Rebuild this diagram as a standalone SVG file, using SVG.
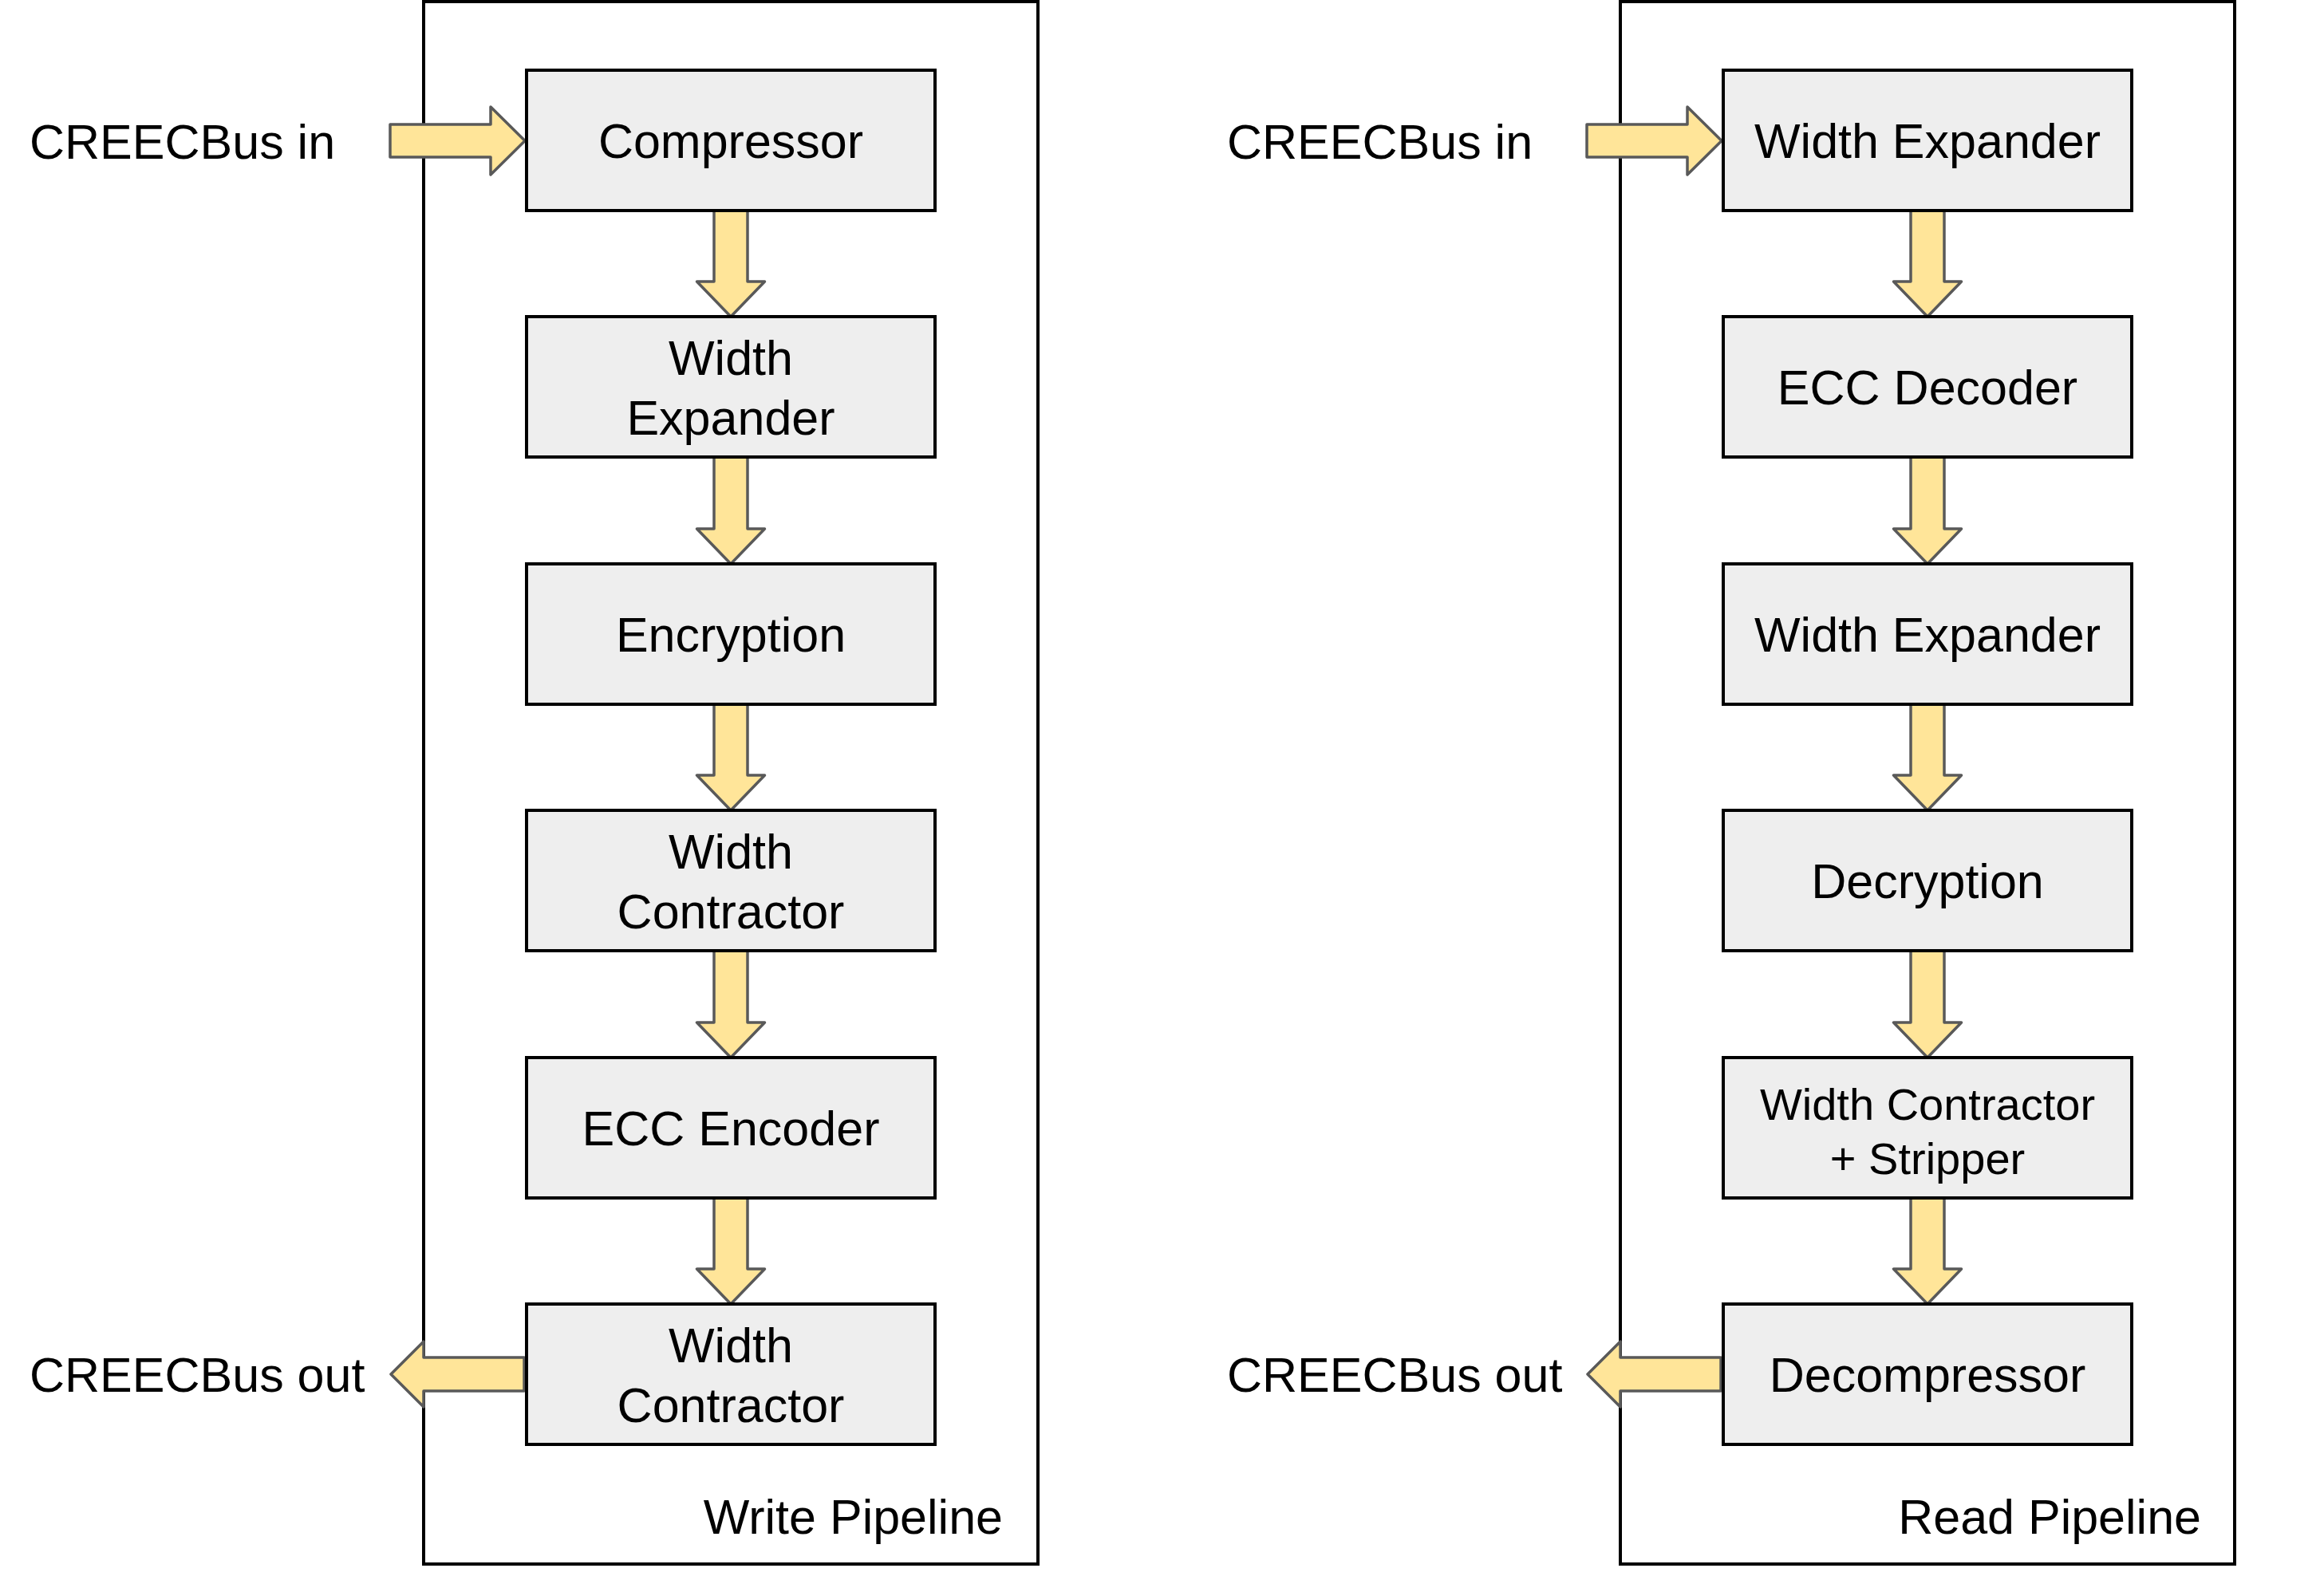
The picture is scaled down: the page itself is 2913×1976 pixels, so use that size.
<svg xmlns="http://www.w3.org/2000/svg" width="2913" height="1976" viewBox="0 0 2913 1976">
<style>
.bg{fill:#ffffff}
.container{fill:none;stroke:#000000;stroke-width:4}
.box{fill:#eeeeee;stroke:#000000;stroke-width:4}
.arrow{fill:#ffe599;stroke:#595959;stroke-width:3.5;stroke-linejoin:round}
.t{font-family:"Liberation Sans",Arial,sans-serif;font-size:61px;fill:#000000}
.c{text-anchor:middle}
.e{text-anchor:end}
.s{font-size:56px}
</style>
<rect class="bg" x="0" y="0" width="2913" height="1976"/>
<g id="write-pipeline">
<rect class="container" x="531" y="2" width="770" height="1959"/>
<text class="t e" x="1257" y="1923">Write Pipeline</text>
</g>
<g id="read-pipeline">
<rect class="container" x="2031" y="2" width="770" height="1959"/>
<text class="t e" x="2759" y="1923">Read Pipeline</text>
</g>
<g id="labels">
<text class="t" x="37" y="199">CREECBus in</text>
<text class="t" x="37" y="1745">CREECBus out</text>
<text class="t" x="1538" y="199">CREECBus in</text>
<text class="t" x="1538" y="1745">CREECBus out</text>
</g>
<g id="connectors">
<polygon class="arrow" points="489,156 615,156 615,134 658,176.5 615,219 615,197 489,197"/>
<polygon class="arrow" points="657,1702 531,1702 531,1682 490,1723 531,1764 531,1744 657,1744"/>
<polygon class="arrow" points="895,264 937,264 937,353 958.5,353 916,397 873.5,353 895,353"/>
<polygon class="arrow" points="895,573 937,573 937,663 958.5,663 916,707 873.5,663 895,663"/>
<polygon class="arrow" points="895,883 937,883 937,972 958.5,972 916,1016 873.5,972 895,972"/>
<polygon class="arrow" points="895,1192 937,1192 937,1282 958.5,1282 916,1326 873.5,1282 895,1282"/>
<polygon class="arrow" points="895,1502 937,1502 937,1591 958.5,1591 916,1635 873.5,1591 895,1591"/>
<polygon class="arrow" points="1989,156 2115,156 2115,134 2158,176.5 2115,219 2115,197 1989,197"/>
<polygon class="arrow" points="2157,1702 2031,1702 2031,1682 1990,1723 2031,1764 2031,1744 2157,1744"/>
<polygon class="arrow" points="2395,264 2437,264 2437,353 2458.5,353 2416,397 2373.5,353 2395,353"/>
<polygon class="arrow" points="2395,573 2437,573 2437,663 2458.5,663 2416,707 2373.5,663 2395,663"/>
<polygon class="arrow" points="2395,883 2437,883 2437,972 2458.5,972 2416,1016 2373.5,972 2395,972"/>
<polygon class="arrow" points="2395,1192 2437,1192 2437,1282 2458.5,1282 2416,1326 2373.5,1282 2395,1282"/>
<polygon class="arrow" points="2395,1502 2437,1502 2437,1591 2458.5,1591 2416,1635 2373.5,1591 2395,1591"/>
</g>
<g id="compressor">
<rect class="box" x="660" y="88" width="512" height="176"/>
<text class="t c" x="916" y="198">Compressor</text>
</g>
<g id="w-width-expander">
<rect class="box" x="660" y="397" width="512" height="176"/>
<text class="t c" x="916" y="470">Width</text>
<text class="t c" x="916" y="545">Expander</text>
</g>
<g id="encryption">
<rect class="box" x="660" y="707" width="512" height="176"/>
<text class="t c" x="916" y="817">Encryption</text>
</g>
<g id="w-width-contractor-1">
<rect class="box" x="660" y="1016" width="512" height="176"/>
<text class="t c" x="916" y="1089">Width</text>
<text class="t c" x="916" y="1164">Contractor</text>
</g>
<g id="ecc-encoder">
<rect class="box" x="660" y="1326" width="512" height="176"/>
<text class="t c" x="916" y="1436">ECC Encoder</text>
</g>
<g id="w-width-contractor-2">
<rect class="box" x="660" y="1635" width="512" height="176"/>
<text class="t c" x="916" y="1708">Width</text>
<text class="t c" x="916" y="1783">Contractor</text>
</g>
<g id="r-width-expander-1">
<rect class="box" x="2160" y="88" width="512" height="176"/>
<text class="t c" x="2416" y="198">Width Expander</text>
</g>
<g id="ecc-decoder">
<rect class="box" x="2160" y="397" width="512" height="176"/>
<text class="t c" x="2416" y="507">ECC Decoder</text>
</g>
<g id="r-width-expander-2">
<rect class="box" x="2160" y="707" width="512" height="176"/>
<text class="t c" x="2416" y="817">Width Expander</text>
</g>
<g id="decryption">
<rect class="box" x="2160" y="1016" width="512" height="176"/>
<text class="t c" x="2416" y="1126">Decryption</text>
</g>
<g id="width-contractor-stripper">
<rect class="box" x="2160" y="1326" width="512" height="176"/>
<text class="t c s" x="2416" y="1404">Width Contractor</text>
<text class="t c s" x="2416" y="1472">+ Stripper</text>
</g>
<g id="decompressor">
<rect class="box" x="2160" y="1635" width="512" height="176"/>
<text class="t c" x="2416" y="1745">Decompressor</text>
</g>
</svg>
